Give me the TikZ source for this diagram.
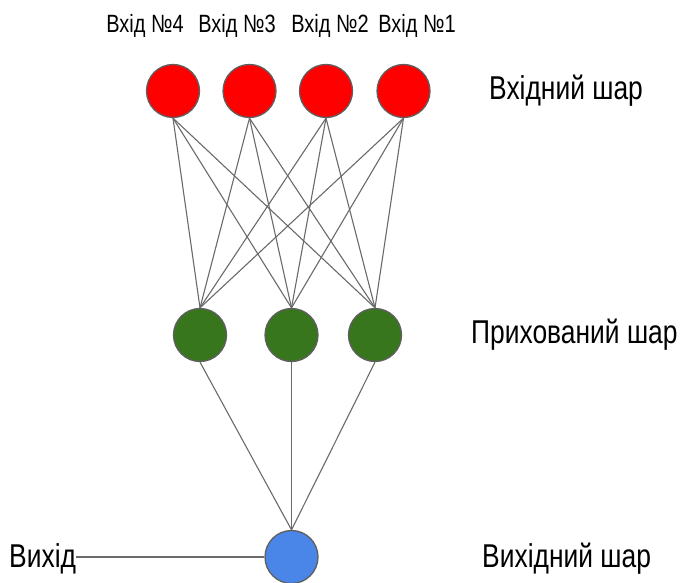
\documentclass[tikz,border=0pt]{standalone}
\usepackage{fontspec}
\setmainfont[FakeStretch=0.8]{Liberation Sans}
\definecolor{inred}{HTML}{FF0000}
\definecolor{hidgreen}{HTML}{38761D}
\definecolor{outblue}{HTML}{4A86E8}
\definecolor{rim}{HTML}{5F5F5F}
\definecolor{wire}{HTML}{6A6A6A}
\tikzset{
  neuron/.style={circle, draw=rim, line width=1.3pt, minimum size=53pt, inner sep=0pt},
  inlabel/.style={font=\fontsize{25}{28}\selectfont, anchor=base, inner sep=0pt},
  layerlabel/.style={font=\fontsize{33}{36}\selectfont, anchor=base west, inner sep=0pt},
  wire/.style={draw=wire, line width=1.1pt}
}
\begin{document}
\begin{tikzpicture}[x=1pt,y=-1pt]
\useasboundingbox (0,0) rectangle (685,583);
% input layer
\node[neuron, fill=inred] (in4) at (173,91) {};
\node[neuron, fill=inred] (in3) at (249.5,91) {};
\node[neuron, fill=inred] (in2) at (326,91) {};
\node[neuron, fill=inred] (in1) at (403.5,91) {};
\node[inlabel] (lab4) at (145,33) {Вхід №4};
\node[inlabel] (lab3) at (237,33) {Вхід №3};
\node[inlabel] (lab2) at (330,33) {Вхід №2};
\node[inlabel] (lab1) at (417,33) {Вхід №1};
% hidden layer
\node[neuron, fill=hidgreen] (hid1) at (200,335) {};
\node[neuron, fill=hidgreen] (hid2) at (291.5,335) {};
\node[neuron, fill=hidgreen] (hid3) at (375,335) {};
% output layer
\node[neuron, fill=outblue] (out) at (291.5,557) {};
\node[anchor=base west, inner sep=0pt, font=\fontsize{33}{36}\selectfont] (outtext) at (9,567) {Вихід};
% layer names
\node[layerlabel] (inname) at (489,100) {Вхідний шар};
\node[layerlabel] (hidname) at (471,343) {Прихований шар};
\node[layerlabel] (outname) at (482,567) {Вихідний шар};
% weights input -> hidden
\draw[wire] (in4.south) -- (hid1.north);
\draw[wire] (in4.south) -- (hid2.north);
\draw[wire] (in4.south) -- (hid3.north);
\draw[wire] (in3.south) -- (hid1.north);
\draw[wire] (in3.south) -- (hid2.north);
\draw[wire] (in3.south) -- (hid3.north);
\draw[wire] (in2.south) -- (hid1.north);
\draw[wire] (in2.south) -- (hid2.north);
\draw[wire] (in2.south) -- (hid3.north);
\draw[wire] (in1.south) -- (hid1.north);
\draw[wire] (in1.south) -- (hid2.north);
\draw[wire] (in1.south) -- (hid3.north);
% weights hidden -> output
\draw[wire] (hid1.south) -- (out.north);
\draw[wire] (hid2.south) -- (out.north);
\draw[wire] (hid3.south) -- (out.north);
\draw[wire] (outtext.east |- out.west) -- (out.west);
\end{tikzpicture}
\end{document}
